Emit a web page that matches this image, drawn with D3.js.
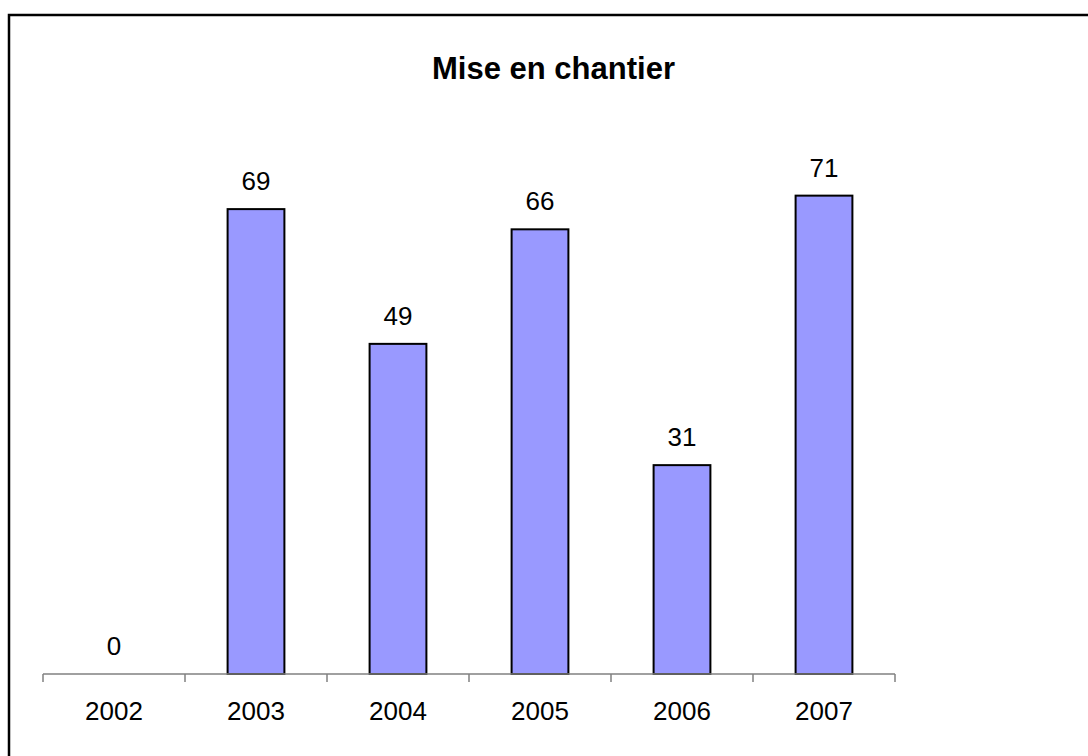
<!DOCTYPE html>
<html>
<head>
<meta charset="utf-8">
<script src="https://cdn.jsdelivr.net/npm/d3@7"></script>
<style>
  body { margin: 0; background: #fff; }
  svg { display: block; font-family: Arial, "Liberation Sans", sans-serif; }
</style>
</head>
<body>
<svg id="main-svg" width="1088" height="756"></svg>
<script>
// data
const years = ['2002', '2003', '2004', '2005', '2006', '2007'];
const values = [0, 69, 49, 66, 31, 71];
const title = 'Mise en chantier';

const svg = d3.select('#main-svg');

// chart frame (right and bottom edges fall outside the picture)
svg.append('rect')
    .attr('x', 9).attr('y', 15)
    .attr('width', 1100).attr('height', 800)
    .attr('fill', 'none')
    .attr('stroke', '#000')
    .attr('stroke-width', 2.5);

// title
svg.append('text')
    .attr('x', 553.5).attr('y', 79)
    .attr('text-anchor', 'middle')
    .attr('font-weight', 'bold')
    .attr('font-size', 31)
    .text(title);

// scales
const x = d3.scaleBand()
    .domain(years)
    .range([43, 895])
    .paddingInner(0.6)
    .paddingOuter(0.3);

const y = d3.scaleLinear()
    .domain([0, 80])
    .range([674, 135]);

const data = years.map((d, i) => ({ year: d, value: values[i] }));

// bars
svg.selectAll('rect.bar')
    .data(data.filter(d => d.value > 0))
    .enter()
    .append('rect')
    .attr('class', 'bar')
    .attr('x', d => x(d.year))
    .attr('y', d => y(d.value))
    .attr('width', x.bandwidth())
    .attr('height', d => y(0) - y(d.value))
    .attr('fill', '#9999ff')
    .attr('stroke', '#000')
    .attr('stroke-width', 2);

// value labels
svg.selectAll('text.val')
    .data(data)
    .enter()
    .append('text')
    .attr('class', 'val')
    .attr('x', d => x(d.year) + x.bandwidth() / 2)
    .attr('y', d => y(d.value) - 19)
    .attr('text-anchor', 'middle')
    .attr('font-size', 26)
    .text(d => d.value);

// category axis: ticks sit between categories, like the original
const step = x.step();
const left = x.range()[0];
const bounds = d3.range(years.length + 1).map(i => left + i * step);

const axis = svg.append('g').attr('stroke', '#808080').attr('stroke-width', 1.5);
axis.append('line')
    .attr('x1', bounds[0]).attr('x2', bounds[bounds.length - 1])
    .attr('y1', y(0)).attr('y2', y(0));
axis.selectAll('line.tick')
    .data(bounds)
    .enter()
    .append('line')
    .attr('class', 'tick')
    .attr('x1', d => d).attr('x2', d => d)
    .attr('y1', y(0)).attr('y2', y(0) + 8);

svg.selectAll('text.cat')
    .data(years)
    .enter()
    .append('text')
    .attr('class', 'cat')
    .attr('x', d => x(d) + x.bandwidth() / 2)
    .attr('y', 720)
    .attr('text-anchor', 'middle')
    .attr('font-size', 26)
    .text(d => d);
</script>
</body>
</html>
